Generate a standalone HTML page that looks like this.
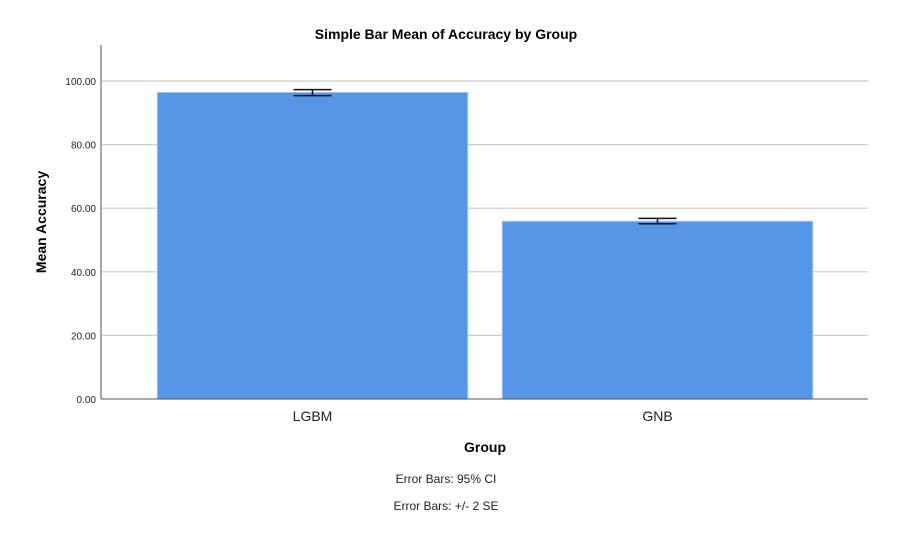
<!DOCTYPE html>
<html><head><meta charset="utf-8"><style>
body{margin:0;background:#fff;font-family:"Liberation Sans",sans-serif;}
</style></head><body>
<svg width="916" height="538" xmlns="http://www.w3.org/2000/svg" font-family="Liberation Sans, sans-serif">
<text x="446" y="39" text-anchor="middle" font-size="14" font-weight="bold" fill="#000">Simple Bar Mean of Accuracy by Group</text>
<g id="grid"></g>
<g id="bars"></g>
<g id="ticks"></g>
<line x1="101" y1="45" x2="101" y2="399" stroke="#888" stroke-width="1.5"/>
<line x1="101" y1="399" x2="868" y2="399" stroke="#555" stroke-width="1"/>
<text transform="translate(46,222) rotate(-90)" text-anchor="middle" font-size="14" font-weight="bold">Mean Accuracy</text>
<text x="485" y="452" text-anchor="middle" font-size="14" font-weight="bold">Group</text>
<text x="446" y="483" text-anchor="middle" font-size="12" fill="#222">Error Bars: 95% CI</text>
<text x="446" y="510" text-anchor="middle" font-size="12" fill="#222">Error Bars: +/- 2 SE</text>
</svg>
<script>
const categories=["LGBM","GNB"];
const means=[96.4,55.9];
const errLow=[95.4,55.1];
const errHigh=[97.3,56.8];
const yTicks=[0,20,40,60,80,100];
const yTickLabels=["0.00","20.00","40.00","60.00","80.00","100.00"];
const NS="http://www.w3.org/2000/svg";
const x0=101,x1=868,y0=399,pxPer=3.18;
const bandStart=140,bandEnd=830;
const y=v=>y0-v*pxPer;
const band=(bandEnd-bandStart)/categories.length;
function mk(t,a,p){const e=document.createElementNS(NS,t);for(const k in a)e.setAttribute(k,a[k]);p.appendChild(e);return e;}
const grid=document.getElementById('grid'),bars=document.getElementById('bars'),ticks=document.getElementById('ticks');
yTicks.forEach((v,i)=>{
 if(v>0){const g=mk('line',{x1:x0,x2:x1,y1:y(v),y2:y(v),stroke:'#ccc','stroke-width':1.2},grid);
 
 }
 const t=mk('text',{x:x0-5,y:y(v)+4,'text-anchor':'end','font-size':10,fill:'#222'},ticks);
 t.textContent=yTickLabels[i];
 
 
});
categories.forEach((c,i)=>{
 const cx=bandStart+band*(i+0.5),w=band*0.9;
 const r=mk('rect',{x:cx-w/2,y:y(means[i]),width:w,height:y0-y(means[i]),fill:'#5596e6',stroke:'#a8c8f0','stroke-width':1},bars);
 
 
 const g=mk('g',{stroke:'#111','stroke-width':1.5},bars);
 
 
 mk('line',{x1:cx,x2:cx,y1:y(errHigh[i]),y2:y(errLow[i])},g);
 mk('line',{x1:cx-19,x2:cx+19,y1:y(errHigh[i]),y2:y(errHigh[i])},g);
 mk('line',{x1:cx-19,x2:cx+19,y1:y(errLow[i]),y2:y(errLow[i])},g);
 const t=mk('text',{x:cx,y:421,'text-anchor':'middle','font-size':14,fill:'#222'},ticks);
 t.textContent=c;
 
 
});
</script>
</body></html>
